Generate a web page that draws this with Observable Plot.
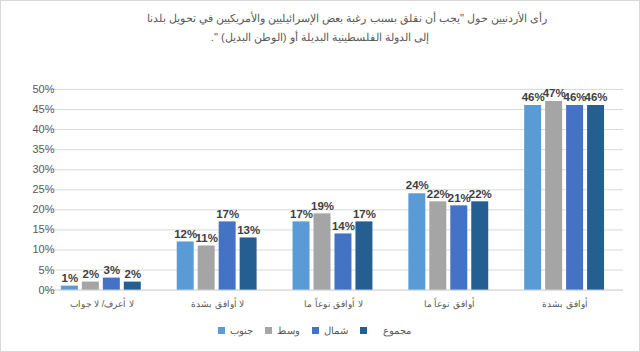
<!DOCTYPE html>
<html><head><meta charset="utf-8">
<script src="https://cdn.jsdelivr.net/npm/d3@7"></script>
<script src="https://cdn.jsdelivr.net/npm/@observablehq/plot@0.6"></script>
<style>
body{margin:0;background:#fff;}
#frame{position:relative;width:640px;height:352px;box-sizing:border-box;border:1px solid #d9d9d9;background:#fff;font-family:"Liberation Sans",Arial,sans-serif;overflow:hidden}
#title{position:absolute;top:8px;left:0;width:100%;text-align:center;direction:rtl;font-size:11.2px;color:#595959;line-height:19px}
#title .l1{padding-left:54px}
#grid,#chart{position:absolute;top:48px;left:-1px}
#legend{position:absolute;top:324px;left:-6px;width:100%;display:flex;justify-content:center;gap:12px;font-size:10px;color:#595959}
#legend .it{display:flex;align-items:center;gap:5px;direction:rtl}
#legend .it:last-child{gap:16px}
#legend .sw{width:7px;height:7px;display:inline-block}
</style></head>
<body>
<div id="frame">
  <div id="title"><div class="l1">رأى الأردنيين حول "يجب أن نقلق بسبب رغبة بعض الإسرائيليين والأمريكيين في تحويل بلدنا</div><div>إلى الدولة الفلسطينية البديلة أو (الوطن البديل) ".</div></div>
  <div id="grid"></div>
  <div id="chart"></div>
  <div id="legend"></div>
</div>
<script>
const categories = ["لا أعرف/ لا جواب","لا أوافق بشدة","لا أوافق نوعاً ما","أوافق نوعاً ما","أوافق بشدة"];
const seriesNames = ["جنوب","وسط","شمال","مجموع"];
const south  = [1,12,17,24,46];
const center = [2,11,19,22,47];
const north  = [3,17,14,21,46];
const total  = [2,13,17,22,46];
const colors = ["#5B9BD5","#A5A5A5","#4472C4","#255E91"];
const yTicks = [0,5,10,15,20,25,30,35,40,45,50];

const seriesValues = [south, center, north, total];
const data = [];
categories.forEach((c,i)=>seriesNames.forEach((s,j)=>data.push({category:c, series:s, value:seriesValues[j][i]})));

const dims = {width:640, height:268, marginLeft:43, marginRight:16, marginTop:40, marginBottom:27};
const font = {fontFamily:"Liberation Sans, Arial, sans-serif", background:"transparent"};

const grid = Plot.plot({
  ...dims, style:font,
  y:{domain:[0,50], label:null, axis:null},
  marks:[
    Plot.gridY(yTicks,{stroke:"#d9d9d9", strokeOpacity:1}),
    Plot.ruleY([0],{stroke:"#d9d9d9"})
  ]
});
document.getElementById("grid").appendChild(grid);

const chart = Plot.plot({
  ...dims, style:font,
  fx:{domain:categories, paddingInner:0.3, paddingOuter:0.15, label:null},
  x:{domain:seriesNames, paddingInner:0.19, paddingOuter:0, axis:null},
  y:{domain:[0,50], label:null},
  color:{domain:seriesNames, range:colors},
  marks:[
    Plot.axisY(yTicks,{tickSize:0, tickPadding:7, tickFormat:d=>d+"%", fontSize:11, fill:"#595959", label:null}),
    Plot.axisFx({anchor:"bottom", tickSize:0, tickPadding:10, fontSize:9.2, fill:"#595959", label:null}),
    Plot.barY(data,{fx:"category", x:"series", y:"value", fill:"series"}),
    Plot.text(data,{fx:"category", x:"series", y:"value", text:d=>d.value+"%", dy:-8, fontWeight:"bold", fontSize:11.5, fill:"#404040"})
  ]
});
document.getElementById("chart").appendChild(chart);

const lg = document.getElementById("legend");
seriesNames.forEach((s,i)=>{
  const it = document.createElement("div"); it.className="it";
  it.innerHTML = `<span>${s}</span><span class="sw" style="background:${colors[i]}"></span>`;
  lg.appendChild(it);
});
</script>
</body></html>
